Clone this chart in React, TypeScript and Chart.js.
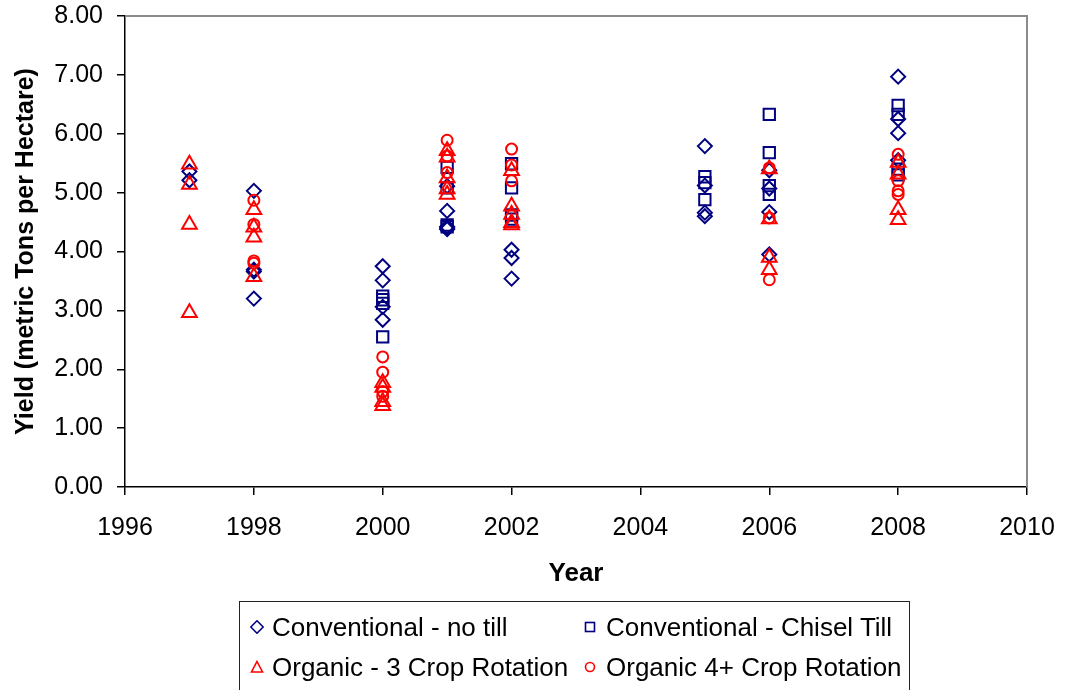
import React, { useEffect, useRef } from 'react';
import { Chart, registerables } from 'chart.js';

Chart.register(...registerables);

// ---- Data ----
const noTillYears = [1997, 1997, 1998, 1998, 1998, 1998, 2000, 2000, 2000, 2000, 2001, 2001, 2001, 2001, 2001, 2002, 2002, 2002, 2005, 2005, 2005, 2005, 2006, 2006, 2006, 2006, 2008, 2008, 2008, 2008];
const noTillYields = [5.36, 5.21, 5.03, 3.69, 3.66, 3.2, 3.75, 3.51, 3.06, 2.84, 5.11, 4.69, 4.42, 4.4, 4.38, 4.03, 3.89, 3.54, 5.79, 5.12, 4.66, 4.6, 5.38, 5.07, 4.67, 3.95, 6.97, 6.25, 6.01, 5.55];

const chiselYears = [2000, 2000, 2000, 2000, 2001, 2001, 2001, 2001, 2002, 2002, 2002, 2002, 2005, 2005, 2005, 2006, 2006, 2006, 2006, 2008, 2008, 2008, 2008];
const chiselYields = [3.24, 3.18, 3.12, 2.55, 5.43, 5.08, 4.45, 4.42, 5.49, 5.08, 4.62, 4.55, 5.27, 5.17, 4.88, 6.33, 5.68, 5.12, 4.97, 6.48, 6.33, 5.4, 5.3];

const org3Years = [1997, 1997, 1997, 1997, 1998, 1998, 1998, 1998, 2000, 2000, 2000, 2000, 2001, 2001, 2001, 2001, 2001, 2002, 2002, 2002, 2002, 2002, 2006, 2006, 2006, 2006, 2008, 2008, 2008, 2008];
const org3Yields = [5.48, 5.14, 4.46, 2.96, 4.71, 4.41, 4.24, 3.57, 1.77, 1.69, 1.45, 1.38, 5.71, 5.6, 5.25, 5.06, 4.97, 5.37, 4.77, 4.63, 4.49, 4.45, 5.4, 4.55, 3.9, 3.69, 5.51, 5.31, 4.71, 4.54];

const org4Years = [1998, 1998, 1998, 1998, 2000, 2000, 2000, 2000, 2001, 2001, 2001, 2002, 2002, 2002, 2006, 2006, 2006, 2008, 2008, 2008, 2008];
const org4Yields = [4.87, 4.46, 3.84, 3.8, 2.21, 1.95, 1.62, 1.54, 5.89, 5.62, 5.34, 5.74, 5.47, 5.2, 5.42, 4.57, 3.52, 5.65, 5.2, 5.03, 4.97];

const seriesNames = [
  'Conventional - no till',
  'Conventional - Chisel Till',
  'Organic - 3 Crop Rotation',
  'Organic 4+ Crop Rotation',
];

const xTitle = 'Year';
const yTitle = 'Yield (metric Tons per Hectare)';

const NAVY = '#000080';
const RED = '#FF0000';
const FONT = "'Liberation Sans', Arial, Helvetica, sans-serif";

const toPoints = (xs: number[], ys: number[]) => xs.map((x, i) => ({ x, y: ys[i] }));

const framePlugin = {
  id: 'frame',
  beforeDatasetsDraw(chart: any) {
    const { ctx, chartArea } = chart;
    const { left, right, top, bottom } = chartArea;
    ctx.save();
    ctx.strokeStyle = '#8a8a8a';
    ctx.lineWidth = 2;
    ctx.beginPath();
    ctx.moveTo(left, top);
    ctx.lineTo(right, top);
    ctx.lineTo(right, bottom);
    ctx.stroke();
    ctx.restore();
  },
};

function LegendMarker({ kind }: { kind: string }) {
  const common = { fill: 'none', strokeWidth: 1.6 } as any;
  let shape: any = null;
  if (kind === 'diamond') shape = <polygon points="7,0.8 13.2,7 7,13.2 0.8,7" stroke={NAVY} {...common} />;
  if (kind === 'square') shape = <rect x="2.5" y="2.5" width="9" height="9" stroke={NAVY} {...common} />;
  if (kind === 'triangle') shape = <polygon points="7,1.5 12.5,12 1.5,12" stroke={RED} {...common} />;
  if (kind === 'circle') shape = <circle cx="7" cy="7" r="4.5" stroke={RED} {...common} />;
  return (
    <svg width="14" height="14" style={{ position: 'absolute', left: -7, top: -7 }}>
      {shape}
    </svg>
  );
}

function LegendItem({ x, y, textX, kind, label }: { x: number; y: number; textX: number; kind: string; label: string }) {
  return (
    <>
      <div style={{ position: 'absolute', left: x, top: y, width: 0, height: 0 }}>
        <LegendMarker kind={kind} />
      </div>
      <div
        style={{
          position: 'absolute',
          left: textX,
          top: y - 16,
          height: 32,
          lineHeight: '32px',
          fontFamily: FONT,
          fontSize: 26,
          color: '#000',
          whiteSpace: 'nowrap',
        }}
      >
        {label}
      </div>
    </>
  );
}

export default function App() {
  const canvasRef = useRef<HTMLCanvasElement | null>(null);

  useEffect(() => {
    const prevMargin = document.body.style.margin;
    document.body.style.margin = '0';
    const canvas = canvasRef.current;
    if (!canvas) return;
    const chart = new Chart(canvas, {
      type: 'scatter',
      data: {
        datasets: [
          {
            label: seriesNames[0],
            data: toPoints(noTillYears, noTillYields),
            pointStyle: 'rectRot',
            pointRadius: 7,
            borderColor: NAVY,
            backgroundColor: 'rgba(0,0,0,0)',
            borderWidth: 2,
            order: 4,
          },
          {
            label: seriesNames[1],
            data: toPoints(chiselYears, chiselYields),
            pointStyle: 'rect',
            pointRadius: 8,
            borderColor: NAVY,
            backgroundColor: 'rgba(0,0,0,0)',
            borderWidth: 2,
            order: 3,
          },
          {
            label: seriesNames[2],
            data: toPoints(org3Years, org3Yields),
            pointStyle: 'triangle',
            pointRadius: 8.5,
            borderColor: RED,
            backgroundColor: 'rgba(0,0,0,0)',
            borderWidth: 2,
            order: 2,
          },
          {
            label: seriesNames[3],
            data: toPoints(org4Years, org4Yields),
            pointStyle: 'circle',
            pointRadius: 5.5,
            borderColor: RED,
            backgroundColor: 'rgba(0,0,0,0)',
            borderWidth: 2,
            order: 1,
          },
        ],
      },
      options: {
        responsive: false,
        animation: false,
        layout: { padding: { top: 16, right: 40, bottom: 93, left: 0 } },
        plugins: {
          legend: { display: false },
          tooltip: { enabled: false },
        },
        scales: {
          x: {
            type: 'linear',
            min: 1996,
            max: 2010,
            ticks: {
              stepSize: 2,
              color: '#000',
              padding: 18,
              font: { family: FONT, size: 25 },
              callback: (v: any) => String(v),
            },
            grid: { drawOnChartArea: false, drawTicks: true, tickLength: 8, color: '#000', lineWidth: 1.5 },
            border: { color: '#000', width: 1.5 },
            title: {
              display: true,
              text: xTitle,
              color: '#000',
              font: { family: FONT, size: 26, weight: 'bold' },
              padding: { top: 0, bottom: 8 },
            },
            afterFit: (s: any) => {
              s.height = 110;
              s.paddingLeft = 0;
              s.paddingRight = 0;
            },
          },
          y: {
            min: 0,
            max: 8,
            ticks: {
              stepSize: 1,
              color: '#000',
              padding: 14,
              font: { family: FONT, size: 25 },
              callback: (v: any) => Number(v).toFixed(2),
            },
            grid: { drawOnChartArea: false, drawTicks: true, tickLength: 8, color: '#000', lineWidth: 1.5 },
            border: { color: '#000', width: 1.5 },
            title: {
              display: true,
              text: yTitle,
              color: '#000',
              font: { family: FONT, size: 25, weight: 'bold' },
              padding: { top: 11, bottom: 0 },
            },
            afterFit: (s: any) => {
              s.width = 125;
              s.paddingTop = 0;
              s.paddingBottom = 0;
            },
          },
        },
      },
      plugins: [framePlugin],
    });
    return () => {
      chart.destroy();
      document.body.style.margin = prevMargin;
    };
  }, []);

  return (
    <div style={{ position: 'relative', width: 1067, height: 690, overflow: 'hidden', background: '#fff' }}>
      <canvas ref={canvasRef} width={1067} height={690} style={{ position: 'absolute', left: 0, top: 0 }} />
      <div
        style={{
          position: 'absolute',
          left: 239,
          top: 601,
          width: 671,
          height: 120,
          border: '1.5px solid #222',
          boxSizing: 'border-box',
        }}
      />
      <LegendItem x={257} y={627} textX={272} kind="diamond" label={seriesNames[0]} />
      <LegendItem x={590} y={627} textX={606} kind="square" label={seriesNames[1]} />
      <LegendItem x={257} y={667} textX={272} kind="triangle" label={seriesNames[2]} />
      <LegendItem x={590} y={667} textX={606} kind="circle" label={seriesNames[3]} />
    </div>
  );
}
